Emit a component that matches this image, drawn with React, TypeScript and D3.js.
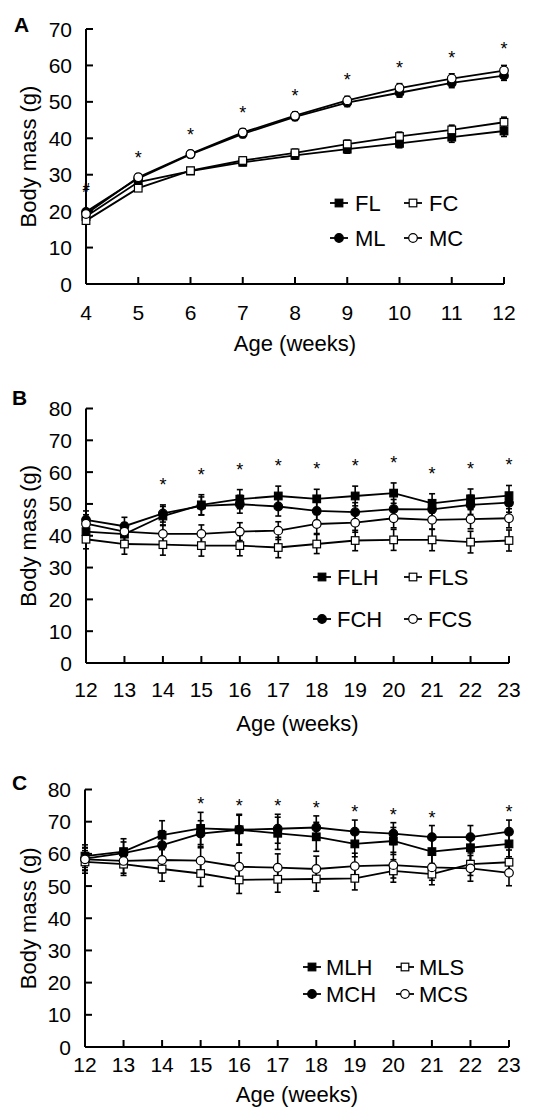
import * as d3 from 'd3';

// panel A: weeks 4-12
const weeksA = [4, 5, 6, 7, 8, 9, 10, 11, 12];
const FL = [18.5, 28.0, 31.0, 33.4, 35.3, 37.0, 38.6, 40.3, 42.0];
const FC = [17.4, 26.3, 31.1, 33.9, 36.0, 38.4, 40.5, 42.3, 44.4];
const ML = [19.8, 29.0, 35.6, 41.2, 45.9, 49.8, 52.5, 55.2, 57.2];
const MC = [19.2, 29.3, 35.7, 41.6, 46.2, 50.4, 53.8, 56.4, 58.6];
const errFL = [0.7, 0.8, 0.8, 0.9, 1.0, 1.1, 1.2, 1.4, 1.5];
const errFC = [0.7, 0.8, 0.8, 0.9, 1.0, 1.1, 1.2, 1.3, 1.4];
const errML = [0.8, 0.9, 0.9, 1.0, 1.0, 1.1, 1.2, 1.3, 1.3];
const errMC = [0.8, 0.9, 0.9, 1.0, 1.0, 1.1, 1.2, 1.3, 1.4];
const starsA = [5, 6, 7, 8, 9, 10, 11, 12];

// panels B and C: weeks 12-23
const weeksBC = [12, 13, 14, 15, 16, 17, 18, 19, 20, 21, 22, 23];
const FLH = [41.3, 40.5, 46.2, 49.7, 51.5, 52.5, 51.6, 52.5, 53.4, 50.2, 51.6, 52.6];
const FLS = [38.9, 37.4, 37.2, 36.9, 36.9, 36.3, 37.4, 38.5, 38.7, 38.7, 38.0, 38.5];
const FCH = [45.0, 43.0, 47.0, 49.4, 49.9, 49.2, 47.8, 47.4, 48.4, 48.3, 49.7, 50.4];
const FCS = [43.8, 41.3, 40.6, 40.6, 41.3, 41.6, 43.7, 44.1, 45.5, 45.0, 45.2, 45.5];
const errFLH = [3.0, 2.8, 3.0, 3.2, 3.0, 3.1, 3.0, 3.1, 3.2, 3.0, 3.1, 3.2];
const errFLS = [3.0, 3.2, 3.3, 3.3, 3.2, 3.2, 3.0, 3.2, 3.3, 3.4, 3.4, 3.3];
const errFCH = [2.8, 2.8, 2.7, 2.8, 2.8, 3.0, 3.0, 3.0, 3.0, 3.0, 3.0, 3.0];
const errFCS = [2.8, 2.8, 2.8, 2.8, 2.8, 2.8, 3.0, 3.0, 3.0, 3.0, 3.0, 3.0];
const starsB = [14, 15, 16, 17, 18, 19, 20, 21, 22, 23];

const MLH = [59.3, 60.7, 65.8, 67.9, 67.5, 66.4, 65.3, 63.1, 64.0, 60.7, 61.9, 63.1];
const MLS = [57.5, 56.8, 55.3, 53.9, 51.9, 52.1, 52.2, 52.4, 54.7, 53.7, 56.8, 57.4];
const MCH = [58.5, 60.2, 62.7, 66.3, 67.5, 67.8, 68.2, 66.9, 66.3, 65.2, 65.2, 66.9];
const MCS = [58.3, 57.8, 58.1, 57.9, 56.0, 55.7, 55.3, 56.2, 56.5, 55.8, 55.5, 54.1];
const errMLH = [3.5, 4.0, 4.5, 5.0, 4.8, 5.0, 4.5, 4.0, 4.2, 4.5, 4.0, 4.0];
const errMLS = [3.5, 3.5, 3.8, 4.0, 4.2, 4.0, 3.8, 3.6, 3.5, 3.3, 3.5, 3.8];
const errMCH = [3.5, 3.5, 4.5, 4.0, 4.5, 4.5, 3.6, 3.6, 3.4, 3.6, 3.6, 3.6];
const errMCS = [3.5, 3.8, 4.0, 4.0, 4.3, 4.3, 4.0, 4.0, 4.0, 4.0, 4.0, 4.0];
const starsC = [15, 16, 17, 18, 19, 20, 21, 23];

const FONT = '"Liberation Sans", Arial, sans-serif';

type Series = { name: string; values: number[]; errs: number[]; shape: 'square' | 'circle'; filled: boolean };

function Marker({ x, y, shape, filled }: { x: number; y: number; shape: string; filled: boolean }) {
  const fill = filled ? '#000' : '#fff';
  if (shape === 'square')
    return <rect x={x - 3.8} y={y - 3.8} width={7.6} height={7.6} fill={fill} stroke="#000" strokeWidth={1.2} />;
  return <circle cx={x} cy={y} r={4.3} fill={fill} stroke="#000" strokeWidth={1.2} />;
}

function Panel(props: any) {
  const { letter, letterPos, weeks, series, yMax, left, right, top, bottom,
    stars, starGap, legend, xLabelDy, xTitleDy, hash } = props;
  const x = d3.scaleLinear().domain([weeks[0], weeks[weeks.length - 1]]).range([left, right]);
  const y = d3.scaleLinear().domain([0, yMax]).range([bottom, top]);
  const line = d3.line<number>().x((_, i) => x(weeks[i])).y(d => y(d));
  const yTicks = d3.range(0, yMax + 1, 10);

  return (
    <g fontFamily={FONT}>
      <text x={letterPos[0]} y={letterPos[1]} fontSize={21} fontWeight="bold">{letter}</text>

      {/* axes */}
      <line x1={left} x2={left} y1={top} y2={bottom} stroke="#000" strokeWidth={2} />
      <line x1={left} x2={right} y1={bottom} y2={bottom} stroke="#000" strokeWidth={2} />
      {yTicks.map(t => (
        <g key={'y' + t}>
          <line x1={left} x2={left + 7} y1={y(t)} y2={y(t)} stroke="#000" strokeWidth={2} />
          <text x={left - 14} y={y(t) + 7.5} fontSize={21} textAnchor="end">{t}</text>
        </g>
      ))}
      {weeks.map((w: number) => (
        <g key={'x' + w}>
          <line x1={x(w)} x2={x(w)} y1={bottom} y2={bottom - 7} stroke="#000" strokeWidth={2} />
          <text x={x(w)} y={bottom + xLabelDy} fontSize={21} textAnchor="middle">{w}</text>
        </g>
      ))}
      <text x={(left + right) / 2} y={bottom + xTitleDy} fontSize={22} textAnchor="middle">Age (weeks)</text>
      <text transform={`translate(36,${(top + bottom) / 2}) rotate(-90)`} fontSize={22} textAnchor="middle">Body mass (g)</text>

      {/* lines */}
      {series.map((s: Series) => (
        <path key={'l' + s.name} d={line(s.values) || ''} fill="none" stroke="#000" strokeWidth={1.8} />
      ))}
      {/* error bars */}
      {series.map((s: Series) => s.values.map((v, i) => {
        const cx = x(weeks[i]);
        const y1 = y(v - s.errs[i]);
        const y2 = y(v + s.errs[i]);
        return (
          <g key={'e' + s.name + i} stroke="#000" strokeWidth={1.6}>
            <line x1={cx} x2={cx} y1={y1} y2={y2} />
            <line x1={cx - 3} x2={cx + 3} y1={y1} y2={y1} />
            <line x1={cx - 3} x2={cx + 3} y1={y2} y2={y2} />
          </g>
        );
      }))}
      {/* markers */}
      {series.map((s: Series) => s.values.map((v, i) => (
        <Marker key={'m' + s.name + i} x={x(weeks[i])} y={y(v)} shape={s.shape} filled={s.filled} />
      )))}

      {/* significance marks */}
      {stars.map((w: number) => {
        const i = weeks.indexOf(w);
        const topVal = d3.max(series, (s: Series) => s.values[i] + s.errs[i]) as number;
        return (
          <text key={'s' + w} x={x(w)} y={y(topVal) - starGap + 10} fontSize={18} textAnchor="middle">*</text>
        );
      })}
      {hash && (
        <text x={x(hash[0])} y={y(hash[1]) + 5} fontSize={13} fontWeight="bold" textAnchor="middle">#</text>
      )}

      {/* legend */}
      {series.map((s: Series, k: number) => {
        const cx = k % 2 === 0 ? legend.col1 : legend.col2;
        const cy = k < 2 ? legend.row1 : legend.row2;
        return (
          <g key={'g' + s.name}>
            <line x1={cx - 9} x2={cx + 9} y1={cy} y2={cy} stroke="#000" strokeWidth={1.8} />
            <Marker x={cx} y={cy} shape={s.shape} filled={s.filled} />
            <text x={cx + legend.textDx} y={cy + 8} fontSize={22}>{s.name}</text>
          </g>
        );
      })}
    </g>
  );
}

export default function App() {
  const seriesA: Series[] = [
    { name: 'FL', values: FL, errs: errFL, shape: 'square', filled: true },
    { name: 'FC', values: FC, errs: errFC, shape: 'square', filled: false },
    { name: 'ML', values: ML, errs: errML, shape: 'circle', filled: true },
    { name: 'MC', values: MC, errs: errMC, shape: 'circle', filled: false },
  ];
  const seriesB: Series[] = [
    { name: 'FLH', values: FLH, errs: errFLH, shape: 'square', filled: true },
    { name: 'FLS', values: FLS, errs: errFLS, shape: 'square', filled: false },
    { name: 'FCH', values: FCH, errs: errFCH, shape: 'circle', filled: true },
    { name: 'FCS', values: FCS, errs: errFCS, shape: 'circle', filled: false },
  ];
  const seriesC: Series[] = [
    { name: 'MLH', values: MLH, errs: errMLH, shape: 'square', filled: true },
    { name: 'MLS', values: MLS, errs: errMLS, shape: 'square', filled: false },
    { name: 'MCH', values: MCH, errs: errMCH, shape: 'circle', filled: true },
    { name: 'MCS', values: MCS, errs: errMCS, shape: 'circle', filled: false },
  ];

  return (
    <svg width={536} height={1112} style={{ position: 'absolute', left: 0, top: 0, background: '#fff' }}>
      <rect width={536} height={1112} fill="#fff" />
      <Panel letter="A" letterPos={[14, 32]} weeks={weeksA} series={seriesA} yMax={70}
        left={86} right={504} top={29} bottom={284}
        stars={starsA} starGap={20} hash={[4, 26.5]}
        xLabelDy={36} xTitleDy={67}
        legend={{ col1: 339, col2: 413, row1: 203, row2: 238, textDx: 16 }} />
      <Panel letter="B" letterPos={[12, 405]} weeks={weeksBC} series={seriesB} yMax={80}
        left={86} right={509} top={408.5} bottom={663}
        stars={starsB} starGap={24}
        xLabelDy={34} xTitleDy={68}
        legend={{ col1: 322, col2: 413, row1: 577, row2: 619, textDx: 15 }} />
      <Panel letter="C" letterPos={[12, 790]} weeks={weeksBC} series={seriesC} yMax={80}
        left={85} right={509} top={789.5} bottom={1047}
        stars={starsC} starGap={12}
        xLabelDy={25} xTitleDy={55}
        legend={{ col1: 312, col2: 405, row1: 967, row2: 994, textDx: 14 }} />
    </svg>
  );
}
